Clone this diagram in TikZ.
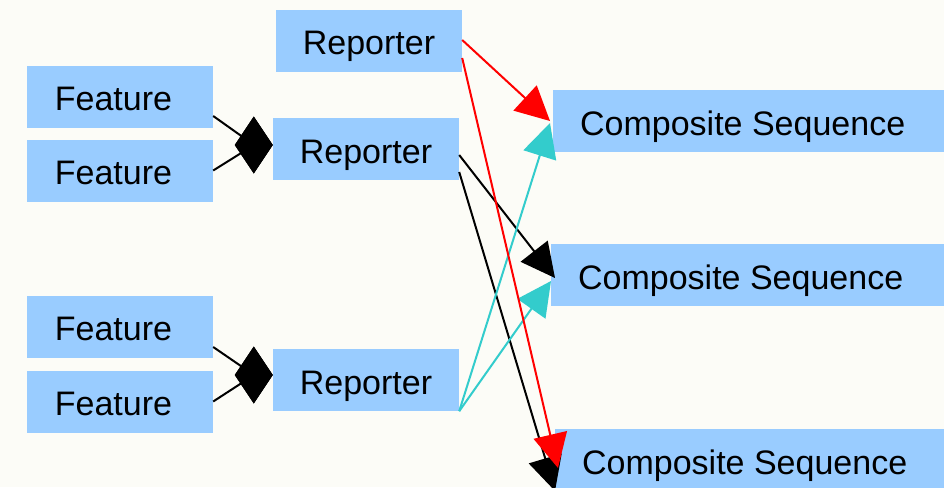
\documentclass[tikz,border=0pt]{standalone}
\usepackage{fontspec}
\setmainfont{Liberation Sans}
\usetikzlibrary{arrows.meta}
\definecolor{boxblue}{RGB}{153,204,255}
\definecolor{paper}{RGB}{252,252,247}
\definecolor{aqua}{RGB}{51,204,204}

\begin{document}
\begin{tikzpicture}[x=1pt,y=-1pt,
    box/.style={fill=boxblue,inner sep=0pt,minimum width=186pt,minimum height=62pt,
      text height=28pt,text depth=0pt,font=\fontsize{34}{40}\selectfont},
    seqbox/.style={box,anchor=west,minimum width=395pt},
    link/.style={line width=2pt,-{Triangle[length=34pt,width=34pt]}},
    joint/.style={line width=2pt,-{Diamond[length=38pt,width=57pt]}}]
    \fill[paper] (0,0) rectangle (944,487);
    \useasboundingbox (0,0) rectangle (944,487);
    \node[box] (feat1) at (120,96.5) {Feature\kern13pt};
    \node[box] (feat2) at (120,170.5) {Feature\kern13pt};
    \node[box] (feat3) at (120,326.5) {Feature\kern13pt};
    \node[box] (feat4) at (120,401.5) {Feature\kern13pt};
    \node[box] (rep1) at (369,41) {Reporter};
    \node[box] (rep2) at (366,149) {Reporter};
    \node[box] (rep3) at (366,380) {Reporter};
    \node[seqbox] (seq1) at (553,121) {Composite Sequence\kern16pt};
    \node[seqbox] (seq2) at (551,275) {Composite Sequence\kern16pt};
    \node[seqbox] (seq3) at (555,460) {Composite Sequence\kern16pt};
    \coordinate (knot1) at (254,145);
    \coordinate (knot2) at (254,375);
    \draw[joint] ([yshift=-19.5pt]feat1.east) -- (knot1) -- ([yshift=4pt]rep2.west);
    \draw[joint] (feat2.east) -- (knot1) -- ([yshift=4pt]rep2.west);
    \draw[joint] ([yshift=-20.5pt]feat3.east) -- (knot2) -- ([yshift=5pt]rep3.west);
    \draw[joint] (feat4.east) -- (knot2) -- ([yshift=5pt]rep3.west);
    \draw[link] ([yshift=-6pt]rep2.east) -- ([xshift=4pt,yshift=-3pt]seq2.west);
    \draw[link] ([yshift=-23pt]rep2.east) -- ([yshift=-31pt]seq3.west);
    \draw[link,aqua] (rep3.south east) -- ([xshift=-3pt,yshift=-2pt]seq1.west);
    \draw[link,aqua] (rep3.south east) -- ([yshift=-6pt]seq2.west);
    \draw[link,red] ([yshift=1pt]rep1.east) -- ([xshift=-3pt]seq1.west);
    \draw[link,red] ([yshift=-17pt]rep1.east) -- ([xshift=3pt,yshift=-8pt]seq3.west);
\end{tikzpicture}
\end{document}
